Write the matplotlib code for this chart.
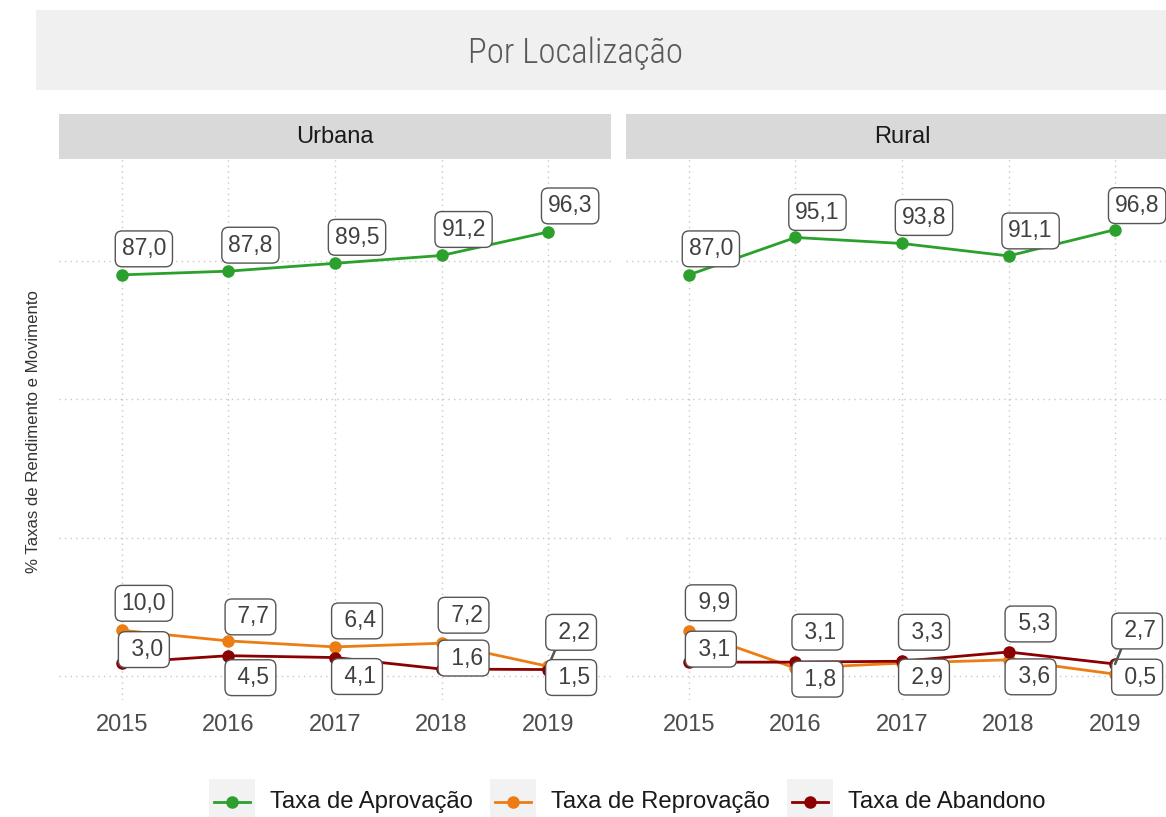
import matplotlib
matplotlib.use("Agg")
import matplotlib.pyplot as plt
from matplotlib.patches import Rectangle
from matplotlib.lines import Line2D

plt.rcParams['font.family'] = ['Liberation Sans', 'DejaVu Sans']

W, H = 1166, 817

anos = [2015, 2016, 2017, 2018, 2019]
paineis = ['Urbana', 'Rural']
series = ['Taxa de Aprovação', 'Taxa de Reprovação', 'Taxa de Abandono']
cores = ['#2ca02c', '#ec7d14', '#8b0000']

urbana_aprovacao = [87.0, 87.8, 89.5, 91.2, 96.3]
urbana_reprovacao = [10.0, 7.7, 6.4, 7.2, 2.2]
urbana_abandono = [3.0, 4.5, 4.1, 1.6, 1.5]

rural_aprovacao = [87.0, 95.1, 93.8, 91.1, 96.8]
rural_reprovacao = [9.9, 1.8, 2.9, 3.6, 0.5]
rural_abandono = [3.1, 3.1, 3.3, 5.3, 2.7]

dados = {
    'Urbana': [urbana_aprovacao, urbana_reprovacao, urbana_abandono],
    'Rural': [rural_aprovacao, rural_reprovacao, rural_abandono],
}

# deslocamento dos rótulos (pixels) em relação a cada ponto, à moda do ggrepel
desloc = {
    'Urbana': [
        [(22, 26), (22, 26), (22, 26), (22, 26), (22, 26)],
        [(22, 27), (22, 24), (22, 26), (22, 28), (23, 34)],
        [(22, 13), (22, -22), (22, -19), (22, 11), (23, -8)],
    ],
    'Rural': [
        [(22, 26), (22, 25), (22, 26), (22, 25), (22, 24)],
        [(22, 28), (22, -11), (22, -14), (22, -17), (22, -3)],
        [(22, 13), (22, 30), (22, 29), (22, 28), (22, 33)],
    ],
}
# rótulos ligados ao ponto por um segmento
com_segmento = {('Urbana', 1, 4), ('Rural', 2, 4)}


def fx(x):
    return x / W


def fy(y):
    return 1 - y / H


fig = plt.figure(figsize=(W / 100, H / 100), dpi=100)

# faixa do título
fig.add_artist(Rectangle((fx(36), fy(90)), fx(1200 - 36), (90 - 10) / H,
                         transform=fig.transFigure, fc='#f0f0f0', ec='none'))
fig.text(fx(575), fy(53), 'Por Localização', ha='center', va='center',
         fontsize=25, color='#595959', fontweight='light',
         family=['Roboto Condensed', 'Liberation Sans Narrow', 'Liberation Sans'])

fig.text(fx(34), fy(432), '% Taxas de Rendimento e Movimento', rotation=90,
         ha='center', va='center', fontsize=12.1, color='#333333')

esquerdas = [59, 626]
largura = 552
topo, base = 159, 700

for painel, x0 in zip(paineis, esquerdas):
    ax = fig.add_axes([fx(x0), fy(base), largura / W, (base - topo) / H])
    ax.set_xlim(2014.41, 2019.59)
    ax.set_ylim(-5.1, 112.1)
    for s in ax.spines.values():
        s.set_visible(False)
    ax.set_xticks(anos)
    ax.set_xticklabels([str(a) for a in anos])
    ax.set_yticks([0, 30, 60, 90])
    ax.set_yticklabels([])
    ax.tick_params(length=0, labelsize=17, labelcolor='#4d4d4d', pad=10)
    ax.grid(True, color='#c8c8c8', linestyle=(0, (1, 3)), linewidth=1)
    ax.set_axisbelow(True)

    # faixa do painel
    fig.add_artist(Rectangle((fx(x0), fy(topo)), largura / W, (topo - 114) / H,
                             transform=fig.transFigure, fc='#d9d9d9', ec='none'))
    fig.text(fx(x0 + largura / 2), fy(137), painel, ha='center', va='center',
             fontsize=17, color='#1a1a1a')

    for i, (vals, cor) in enumerate(zip(dados[painel], cores)):
        ax.plot(anos, vals, color=cor, lw=2, marker='o', ms=8, zorder=3)
        for j, (ano, v) in enumerate(zip(anos, vals)):
            txt = f'{v:4.1f}'.replace('.', ',')
            dx, dy = desloc[painel][i][j]
            seta = None
            if (painel, i, j) in com_segmento:
                seta = dict(arrowstyle='-', color='#555555', lw=1.8,
                            shrinkA=0, shrinkB=0, relpos=(0.15, 0.0))
            ax.annotate(txt, (ano, v), xytext=(dx, dy), textcoords='offset pixels',
                        ha='center', va='center', fontsize=16.5, color='#404040',
                        bbox=dict(boxstyle='round,pad=0.28,rounding_size=0.3',
                                  fc='white', ec='#555555', lw=1),
                        arrowprops=seta, zorder=5, annotation_clip=False)

# legenda
chaves = [209, 490, 787]
for nome, cor, kx in zip(series, cores, chaves):
    fig.add_artist(Rectangle((fx(kx), fy(817)), 46 / W, 38 / H,
                             transform=fig.transFigure, fc='#f2f2f2', ec='none'))
    fig.add_artist(Line2D([fx(kx + 5), fx(kx + 41)], [fy(802), fy(802)],
                          transform=fig.transFigure, color=cor, lw=2))
    fig.add_artist(Line2D([fx(kx + 23)], [fy(802)], transform=fig.transFigure,
                          color=cor, marker='o', ms=8, lw=0))
    fig.text(fx(kx + 61), fy(802), nome, ha='left', va='center',
             fontsize=17.2, color='#1a1a1a')

fig.savefig('out.png', dpi=100)
